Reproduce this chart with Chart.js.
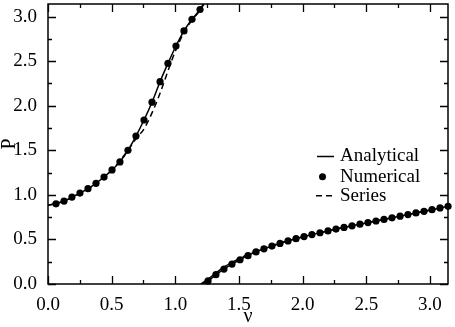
<!DOCTYPE html>
<html><head><meta charset="utf-8">
<script src="https://cdn.jsdelivr.net/npm/chart.js@4/dist/chart.umd.min.js"></script>
<style>html,body{margin:0;padding:0;background:#fff}canvas{display:block}</style>
</head><body>
<canvas id="c" width="455" height="327"></canvas>
<script>
// ---- data ----
const xTitle = 'ν';
const yTitle = 'P';
const legendLabels = ['Analytical', 'Numerical', 'Series'];
const xTickLabels = ['0.0', '0.5', '1.0', '1.5', '2.0', '2.5', '3.0'];
const yTickLabels = ['0.0', '0.5', '1.0', '1.5', '2.0', '2.5', '3.0'];

// numerical points (dots)
const numNu1 = [0.063,0.126,0.188,0.251,0.314,0.377,0.440,0.503,0.565,0.628,0.691,0.754,0.817,0.880,0.942,1.005,1.068,1.131,1.194];
const numP1  = [0.90,0.93,0.975,1.02,1.07,1.13,1.20,1.28,1.37,1.50,1.66,1.84,2.04,2.27,2.475,2.67,2.84,2.97,3.08];
const numNu2 = [1.257,1.319,1.382,1.445,1.508,1.571,1.634,1.696,1.759,1.822,1.885,1.948,2.011,2.073,2.136,2.199,2.262,2.325,2.388,2.450,2.513,2.576,2.639,2.702,2.765,2.827,2.890,2.953,3.016,3.079,3.142];
const numP2  = [0.035,0.105,0.168,0.223,0.272,0.318,0.360,0.395,0.425,0.455,0.483,0.508,0.532,0.554,0.575,0.596,0.616,0.635,0.653,0.671,0.689,0.707,0.725,0.743,0.761,0.779,0.797,0.815,0.834,0.853,0.872];

// analytical curve (solid)
const anaNu1 = [0,0.063,0.126,0.188,0.251,0.314,0.377,0.440,0.503,0.565,0.628,0.691,0.754,0.817,0.880,0.942,1.005,1.068,1.131,1.194,1.22];
const anaP1  = [0.885,0.90,0.93,0.975,1.02,1.07,1.13,1.20,1.28,1.37,1.50,1.66,1.84,2.04,2.27,2.475,2.67,2.84,2.97,3.08,3.1416];
const anaNu2 = [1.21,1.257,1.319,1.382,1.445,1.508,1.571,1.634,1.696,1.759,1.822,1.885,1.948,2.011,2.073,2.136,2.199,2.262,2.325,2.388,2.450,2.513,2.576,2.639,2.702,2.765,2.827,2.890,2.953,3.016,3.079,3.142];
const anaP2  = [0,0.035,0.105,0.168,0.223,0.272,0.318,0.360,0.395,0.425,0.455,0.483,0.508,0.532,0.554,0.575,0.596,0.616,0.635,0.653,0.671,0.689,0.707,0.725,0.743,0.761,0.779,0.797,0.815,0.834,0.853,0.872];

// series expansion (dashed)
const serNu1 = [0,0.126,0.251,0.377,0.503,0.628,0.691,0.754,0.817,0.880,0.942,1.005,1.068,1.131,1.194,1.225];
const serP1  = [0.885,0.93,1.02,1.13,1.28,1.50,1.63,1.74,1.92,2.14,2.39,2.63,2.82,2.96,3.07,3.1416];
const serNu2 = [1.20,1.257,1.319,1.382,1.445,1.508,1.571,1.634,1.696,1.759,1.822,1.885,2.011,2.136,2.262,2.388,2.513,2.639,2.765,2.890,3.016,3.142];
const serP2  = [0,0.055,0.125,0.19,0.243,0.29,0.332,0.37,0.403,0.432,0.46,0.486,0.532,0.575,0.616,0.653,0.689,0.725,0.761,0.797,0.834,0.872];

const pts = (xs, ys) => xs.map((v, i) => ({x: v, y: ys[i]}));
const FONT = '"Liberation Serif", "Times New Roman", serif';

const lineStyle = {type: 'line', borderColor: '#000', borderWidth: 1.5, pointRadius: 0, fill: false, cubicInterpolationMode: 'monotone'};

const frameTicks = {
  id: 'frameTicks',
  afterDraw(chart) {
    const {ctx, chartArea: a, scales: {x, y}} = chart;
    ctx.save();
    ctx.strokeStyle = '#000';
    ctx.lineWidth = 1.5;
    ctx.strokeRect(a.left, a.top, a.right - a.left, a.bottom - a.top);
    ctx.lineWidth = 1.3;
    ctx.beginPath();
    x.ticks.forEach(t => {
      const px = Math.round(x.getPixelForValue(t.value)) + 0.5;
      const len = t.label ? 8 : 4;
      ctx.moveTo(px, a.bottom); ctx.lineTo(px, a.bottom - len);
      ctx.moveTo(px, a.top); ctx.lineTo(px, a.top + len);
    });
    y.ticks.forEach(t => {
      const py = Math.round(y.getPixelForValue(t.value)) + 0.5;
      const len = t.label ? 8 : 4;
      ctx.moveTo(a.left, py); ctx.lineTo(a.left + len, py);
      ctx.moveTo(a.right, py); ctx.lineTo(a.right - len, py);
    });
    ctx.stroke();
    ctx.restore();
  }
};

const insideLegend = {
  id: 'insideLegend',
  afterDraw(chart) {
    const {ctx, chartArea: a} = chart;
    const tx = a.right - 108;
    const rows = [a.top + 152.5, a.top + 172.7, a.top + 191.8];
    ctx.save();
    ctx.fillStyle = '#000';
    ctx.strokeStyle = '#000';
    ctx.font = '19px ' + FONT;
    ctx.textBaseline = 'middle';
    ctx.textAlign = 'left';
    legendLabels.forEach((lab, i) => ctx.fillText(lab, tx, rows[i]));
    ctx.lineWidth = 1.5;
    ctx.beginPath();
    ctx.moveTo(tx - 23, rows[0]); ctx.lineTo(tx - 6, rows[0]);
    ctx.stroke();
    ctx.beginPath();
    ctx.arc(tx - 17.5, rows[1], 3.5, 0, Math.PI * 2);
    ctx.fill();
    ctx.setLineDash([6, 4]);
    ctx.beginPath();
    ctx.moveTo(tx - 24, rows[2]); ctx.lineTo(tx - 6, rows[2]);
    ctx.stroke();
    ctx.restore();
  }
};

const tickCb = labels => function (v) {
  const s = (Math.round(v * 100) / 100).toFixed(1);
  return (Math.abs(v * 2 - Math.round(v * 2)) < 1e-6 && labels.includes(s)) ? s : '';
};

new Chart(document.getElementById('c'), {
  data: {
    datasets: [
      Object.assign({}, lineStyle, {label: 'Analytical', data: pts(anaNu1, anaP1)}),
      Object.assign({}, lineStyle, {label: 'Analytical2', data: pts(anaNu2, anaP2)}),
      Object.assign({}, lineStyle, {label: 'Series', data: pts(serNu1, serP1), borderDash: [6, 4]}),
      Object.assign({}, lineStyle, {label: 'Series2', data: pts(serNu2, serP2), borderDash: [6, 4]}),
      {type: 'scatter', label: 'Numerical', data: pts(numNu1, numP1), pointRadius: 3.6, pointBackgroundColor: '#000', pointBorderWidth: 0, showLine: false, clip: 6},
      {type: 'scatter', label: 'Numerical2', data: pts(numNu2, numP2), pointRadius: 3.6, pointBackgroundColor: '#000', pointBorderWidth: 0, showLine: false, clip: 6}
    ]
  },
  options: {
    responsive: false,
    animation: false,
    devicePixelRatio: 1,
    layout: {padding: {top: 2, right: 7, left: 0, bottom: 0}},
    plugins: {legend: {display: false}, tooltip: {enabled: false}},
    scales: {
      x: {
        type: 'linear', min: 0, max: Math.PI,
        grid: {display: false},
        border: {display: false},
        ticks: {stepSize: 0.25, includeBounds: false, autoSkip: false, maxRotation: 0, padding: 3.5,
          color: '#000', font: {family: FONT, size: 19, lineHeight: 1}, callback: tickCb(xTickLabels)},
        title: {display: true, text: xTitle, color: '#000', font: {family: FONT, size: 20, lineHeight: 1}, padding: {top: 0, bottom: 0}},
        afterFit: s => { s.height = 43; s.paddingLeft = 0; s.paddingRight = 0; }
      },
      y: {
        type: 'linear', min: 0, max: Math.PI,
        grid: {display: false},
        border: {display: false},
        ticks: {stepSize: 0.25, includeBounds: false, autoSkip: false, padding: 3,
          color: '#000', font: {family: FONT, size: 19, lineHeight: 1}, callback: tickCb(yTickLabels)},
        title: {display: true, text: yTitle, color: '#000', font: {family: FONT, size: 20, lineHeight: 1}, padding: {top: 0, bottom: 0}},
        afterFit: s => { s.width = 48; s.paddingTop = 0; s.paddingBottom = 0; }
      }
    }
  },
  plugins: [frameTicks, insideLegend]
});
</script>
</body></html>
